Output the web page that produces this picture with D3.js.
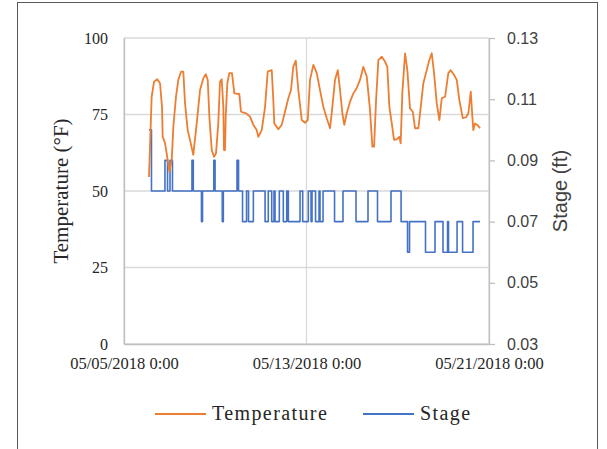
<!DOCTYPE html>
<html>
<head>
<meta charset="utf-8">
<script src="https://cdn.jsdelivr.net/npm/d3@7"></script>
<style>
  html, body { margin: 0; padding: 0; background: #fff; }
  svg { display: block; }
</style>
</head>
<body>
<svg id="chart" width="607" height="449"></svg>
<script>
// Water temperature and stage, logged from 05/05/2018 onward.
// Times are hours after 2018-05-05 00:00.
const startDate = new Date(2018, 4, 5, 0, 0);

const tempHours = [26.3, 29.1, 31.6, 35.0, 37.9, 40.0, 40.7, 43.1, 46.0, 47.7, 50.2, 51.9, 54.7, 57.1, 60.0, 62.4,
  64.2, 67.0, 69.4, 72.9, 76.5, 80.0, 83.4, 86.0, 88.1, 89.8, 92.3, 94.7, 96.8, 99.2, 101.0, 102.8,
  104.5, 105.2, 106.3, 107.0, 108.7, 110.8, 113.6, 116.1, 121.3, 123.1, 128.4, 132.6, 136.1, 139.6, 141.3, 144.9,
  148.4, 151.2, 155.4, 157.1, 158.1, 162.4, 165.9, 169.4, 172.9, 175.7, 178.1, 180.7, 183.4, 187.0, 190.4, 193.3,
  195.7, 199.2, 202.8, 206.2, 209.7, 213.3, 216.8, 219.2, 222.0, 224.9, 227.3, 229.7, 231.8, 234.3, 237.8, 241.3,
  244.8, 248.3, 251.8, 255.4, 258.8, 261.3, 263.1, 265.2, 267.6, 271.2, 274.6, 277.0, 279.2, 281.7, 284.1, 286.9,
  289.7, 291.1, 292.8, 295.7, 298.1, 300.9, 303.8, 306.2, 309.7, 312.2, 314.9, 318.5, 321.2, 323.8, 326.2, 329.0,
  331.8, 334.3, 337.8, 341.2, 343.8, 347.2, 350.1, 352.8, 356.4, 359.9, 362.3, 364.8, 366.5, 367.5, 369.3, 371.7, 374.6];

const tempValues = [54.6, 80.8, 85.7, 86.5, 85.2, 77.5, 67.7, 65.7, 60.1, 56.3, 60.1, 71.0, 80.8, 86.3, 89.0, 89.0,
  78.7, 69.9, 66.7, 61.8, 72.1, 83.0, 86.8, 88.2, 86.3, 74.3, 63.4, 61.2, 62.3, 72.1, 85.7, 86.5,
  77.5, 63.4, 63.4, 74.3, 85.2, 88.5, 88.5, 81.9, 81.7, 75.9, 75.4, 74.3, 71.6, 69.9, 67.7, 69.9,
  77.5, 89.0, 89.5, 79.7, 72.1, 70.2, 71.6, 75.9, 80.3, 83.0, 90.6, 92.6, 83.0, 73.2, 72.3, 73.2,
  86.3, 91.2, 88.5, 83.0, 77.5, 73.8, 70.5, 77.5, 86.3, 89.5, 83.0, 75.4, 71.6, 75.4, 79.2, 81.9,
  83.6, 86.3, 90.6, 87.4, 76.5, 64.5, 64.5, 79.7, 92.8, 93.9, 92.3, 90.6, 77.5, 72.1, 66.7, 66.9,
  67.7, 65.6, 81.9, 95.0, 89.5, 77.0, 75.9, 70.5, 70.5, 77.5, 85.2, 89.5, 92.8, 95.0, 88.5, 78.7,
  73.2, 80.3, 80.8, 88.5, 89.5, 87.9, 86.3, 79.7, 73.8, 74.1, 75.4, 82.5, 74.3, 69.9, 72.1, 71.6, 70.5];

// Stage readings: each value holds until the next reading time.
const stageHours = [26.3, 28.9, 43.1, 45.8, 48.4, 51.0, 71.5, 72.9, 81.5, 82.6, 94.5, 95.8, 103.4, 104.5, 118.9, 120.5,
  124.7, 128.9, 131.0, 136.1, 148.4, 151.8, 155.4, 157.8, 158.9, 163.4, 167.6, 171.2, 172.9, 185.2, 188.0, 193.9,
  196.8, 197.8, 201.5, 205.2, 206.2, 209.4, 221.5, 230.4, 244.1, 256.7, 266.7, 280.9, 291.5, 298.3, 300.4, 317.2,
  327.2, 335.6, 340.4, 341.4, 350.4, 356.2, 367.2, 374.6];

const stageValues = [0.10, 0.08, 0.09, 0.08, 0.09, 0.08, 0.09, 0.08, 0.07, 0.08, 0.09, 0.08, 0.07, 0.08, 0.09, 0.08,
  0.07, 0.08, 0.07, 0.08, 0.07, 0.08, 0.07, 0.08, 0.07, 0.08, 0.07, 0.08, 0.07, 0.08, 0.07, 0.08,
  0.07, 0.08, 0.07, 0.08, 0.07, 0.08, 0.07, 0.08, 0.07, 0.08, 0.07, 0.08, 0.07, 0.06, 0.07, 0.06,
  0.07, 0.06, 0.07, 0.06, 0.07, 0.06, 0.07, 0.07];

const tempTicks = [0, 25, 50, 75, 100];
const stageTicks = [0.03, 0.05, 0.07, 0.09, 0.11, 0.13];
const dateTicks = [new Date(2018, 4, 5), new Date(2018, 4, 13), new Date(2018, 4, 21)];
const seriesNames = ["Temperature", "Stage"];
const seriesColors = ["#ED7D31", "#4472C4"];

const hoursToDate = h => new Date(startDate.getTime() + h * 3600 * 1000);
const tempData = tempHours.map((h, i) => ({ t: hoursToDate(h), v: tempValues[i] }));
const stageData = stageHours.map((h, i) => ({ t: hoursToDate(h), v: stageValues[i] }));

const svg = d3.select("#chart");
const plot = { left: 124, top: 38, right: 489, bottom: 344 };

const x = d3.scaleTime()
  .domain([dateTicks[0], dateTicks[2]])
  .range([plot.left, plot.right]);
const yT = d3.scaleLinear().domain([0, 100]).range([plot.bottom, plot.top]);
const yS = d3.scaleLinear().domain([0.03, 0.13]).range([plot.bottom, plot.top]);

const serif = "'Liberation Serif', 'Times New Roman', serif";
const sans = "'Liberation Sans', Arial, sans-serif";

// outer frame
svg.append("rect")
  .attr("x", 17.5).attr("y", 2.5).attr("width", 580).attr("height", 450)
  .attr("fill", "none").attr("stroke", "#595959").attr("stroke-width", 1);

// horizontal gridlines (temperature axis)
svg.append("g")
  .selectAll("line").data(tempTicks).join("line")
  .attr("x1", plot.left).attr("x2", plot.right)
  .attr("y1", d => yT(d)).attr("y2", d => yT(d))
  .attr("stroke", "#d9d9d9").attr("stroke-width", 1.3);

// vertical gridlines (dates)
svg.append("g")
  .selectAll("line").data(dateTicks).join("line")
  .attr("x1", d => x(d)).attr("x2", d => x(d))
  .attr("y1", plot.top).attr("y2", plot.bottom)
  .attr("stroke", "#d9d9d9").attr("stroke-width", 1.3);

// left temperature axis
const leftAxis = svg.append("g")
  .attr("transform", `translate(${plot.left},0)`)
  .call(d3.axisLeft(yT).tickValues(tempTicks).tickSize(0).tickPadding(16));
leftAxis.select(".domain").attr("stroke", "#bfbfbf").attr("stroke-width", 1.3);
leftAxis.selectAll("text").attr("font-family", serif).attr("font-size", 16).attr("fill", "#262626");

// right stage axis
const rightAxis = svg.append("g")
  .attr("transform", `translate(${plot.right},0)`)
  .call(d3.axisRight(yS).tickValues(stageTicks).tickFormat(d3.format(".2f")).tickSizeInner(6).tickSizeOuter(0).tickPadding(12));
rightAxis.select(".domain").attr("stroke", "#bfbfbf").attr("stroke-width", 1.3);
rightAxis.selectAll(".tick line").attr("stroke", "#bfbfbf").attr("stroke-width", 1.3);
rightAxis.selectAll("text").attr("font-family", sans).attr("font-size", 16).attr("fill", "#404040");

// bottom date axis
const bottomAxis = svg.append("g")
  .attr("transform", `translate(0,${plot.bottom})`)
  .call(d3.axisBottom(x).tickValues(dateTicks).tickFormat(d3.timeFormat("%m/%d/%Y %-H:%M")).tickSize(0).tickPadding(13));
bottomAxis.select(".domain").attr("stroke", "#bfbfbf").attr("stroke-width", 1.3);
bottomAxis.selectAll("text").attr("font-family", serif).attr("font-size", 16.5).attr("fill", "#262626");

// axis titles
svg.append("text")
  .attr("transform", `translate(68,${(plot.top + plot.bottom) / 2}) rotate(-90)`)
  .attr("text-anchor", "middle")
  .attr("font-family", serif).attr("font-size", 21).attr("fill", "#262626")
  .text("Temperature (\u00B0F)");

svg.append("text")
  .attr("transform", `translate(567,${(plot.top + plot.bottom) / 2}) rotate(-90)`)
  .attr("text-anchor", "middle")
  .attr("font-family", sans).attr("font-size", 20).attr("fill", "#404040")
  .text("Stage (ft)");

// series lines
const tempLine = d3.line().x(d => x(d.t)).y(d => yT(d.v));
const stageLine = d3.line().x(d => x(d.t)).y(d => yS(d.v)).curve(d3.curveStepAfter);

svg.append("path").datum(stageData)
  .attr("d", stageLine)
  .attr("fill", "none").attr("stroke", seriesColors[1]).attr("stroke-width", 1.6)
  .attr("stroke-linejoin", "round");

svg.append("path").datum(tempData)
  .attr("d", tempLine)
  .attr("fill", "none").attr("stroke", seriesColors[0]).attr("stroke-width", 1.8)
  .attr("stroke-linejoin", "round");

// legend
const legendItems = [
  { name: seriesNames[0], color: seriesColors[0], x: 155 },
  { name: seriesNames[1], color: seriesColors[1], x: 363 }
];
const legend = svg.append("g");
legend.selectAll("line").data(legendItems).join("line")
  .attr("x1", d => d.x).attr("x2", d => d.x + 51)
  .attr("y1", 414).attr("y2", 414)
  .attr("stroke", d => d.color).attr("stroke-width", 1.8);
legend.selectAll("text").data(legendItems).join("text")
  .attr("x", d => d.x + 57).attr("y", 420)
  .attr("font-family", serif).attr("font-size", 20).attr("fill", "#262626")
  .attr("letter-spacing", 1.4)
  .text(d => d.name);
</script>
</body>
</html>
